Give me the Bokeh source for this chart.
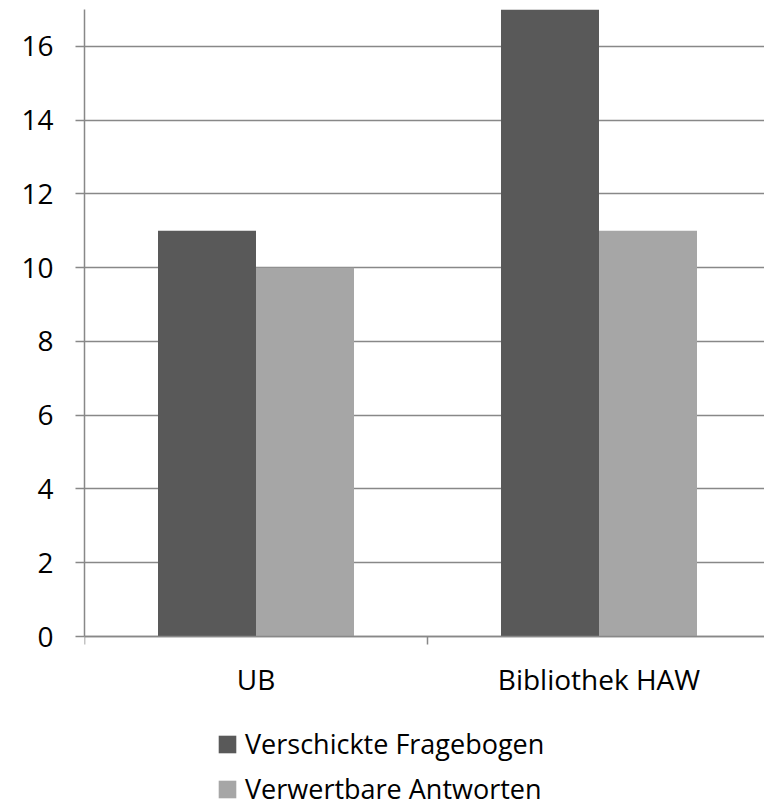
from bokeh.plotting import figure
from bokeh.models import Range1d, FixedTicker, Legend, LegendItem, ColumnDataSource
from bokeh.embed import file_html
from bokeh.resources import INLINE

categories = ["UB", "Bibliothek HAW"]
series_names = ["Verschickte Fragebogen", "Verwertbare Antworten"]
verschickte = [11, 17]
verwertbar = [10, 11]
y_ticks = [0, 2, 4, 6, 8, 10, 12, 14, 16]

FONT = "Open Sans"
DARK = "#595959"
LIGHT = "#A6A6A6"
GRID = "#888888"

W, H = 764, 807
LEFT, TOP, ZERO_Y = 84, 9, 636
CAT_PX = 343
Y_MAX = 17

cat_pos = [i + 0.5 for i in range(len(categories))]
bar_w = 98 / CAT_PX
x_end = (W - LEFT) / CAT_PX
unit_px = (ZERO_Y - TOP) / Y_MAX
y_start = -(H - ZERO_Y) / unit_px

p = figure(width=W, height=H, output_backend="svg", toolbar_location=None,
           x_range=Range1d(0, x_end), y_range=Range1d(y_start, Y_MAX),
           min_border_left=LEFT, min_border_right=0, min_border_top=TOP, min_border_bottom=0)
p.outline_line_color = None
p.background_fill_color = "white"
p.border_fill_color = "white"

src1 = ColumnDataSource(dict(x=[c - bar_w / 2 for c in cat_pos], top=verschickte))
src2 = ColumnDataSource(dict(x=[c + bar_w / 2 for c in cat_pos], top=verwertbar))
r1 = p.vbar(x="x", top="top", width=bar_w, bottom=0, source=src1, fill_color=DARK, line_color=None)
r2 = p.vbar(x="x", top="top", width=bar_w, bottom=0, source=src2, fill_color=LIGHT, line_color=None)

p.xgrid.visible = False
p.ygrid.ticker = FixedTicker(ticks=y_ticks)
p.ygrid.grid_line_color = GRID
p.ygrid.grid_line_width = 1.5

xa = p.xaxis[0]
xa.fixed_location = 0
xa.ticker = FixedTicker(ticks=cat_pos, minor_ticks=list(range(len(categories) + 1)))
xa.major_label_overrides = {cp: c for cp, c in zip(cat_pos, categories)}
xa.major_tick_line_color = None
xa.minor_tick_in = 0
xa.minor_tick_out = 8
xa.minor_tick_line_color = GRID
xa.minor_tick_line_width = 1.5
xa.axis_line_color = GRID
xa.axis_line_width = 1.5
xa.major_label_text_font = FONT
xa.major_label_text_font_size = "28px"
xa.major_label_text_color = "black"
xa.major_label_standoff = 15

ya = p.yaxis[0]
ya.bounds = (0, Y_MAX)
ya.ticker = FixedTicker(ticks=y_ticks)
ya.minor_tick_line_color = None
ya.major_tick_in = 0
ya.major_tick_out = 9
ya.major_tick_line_color = GRID
ya.major_tick_line_width = 1.5
ya.axis_line_color = GRID
ya.axis_line_width = 1.5
ya.major_label_text_font = FONT
ya.major_label_text_font_size = "28px"
ya.major_label_text_color = "black"
ya.major_label_standoff = 22

legend = Legend(items=[LegendItem(label=series_names[0], renderers=[r1]),
                       LegendItem(label=series_names[1], renderers=[r2])],
                orientation="vertical", location=(132, 0),
                glyph_width=22, glyph_height=22, label_height=22, spacing=8,
                label_standoff=7, padding=0, margin=0,
                label_text_font=FONT, label_text_font_size="27px",
                label_text_color="black",
                border_line_color=None, background_fill_alpha=0)
p.add_layout(legend, "center")

open("out.html", "w").write(file_html(p, INLINE))
